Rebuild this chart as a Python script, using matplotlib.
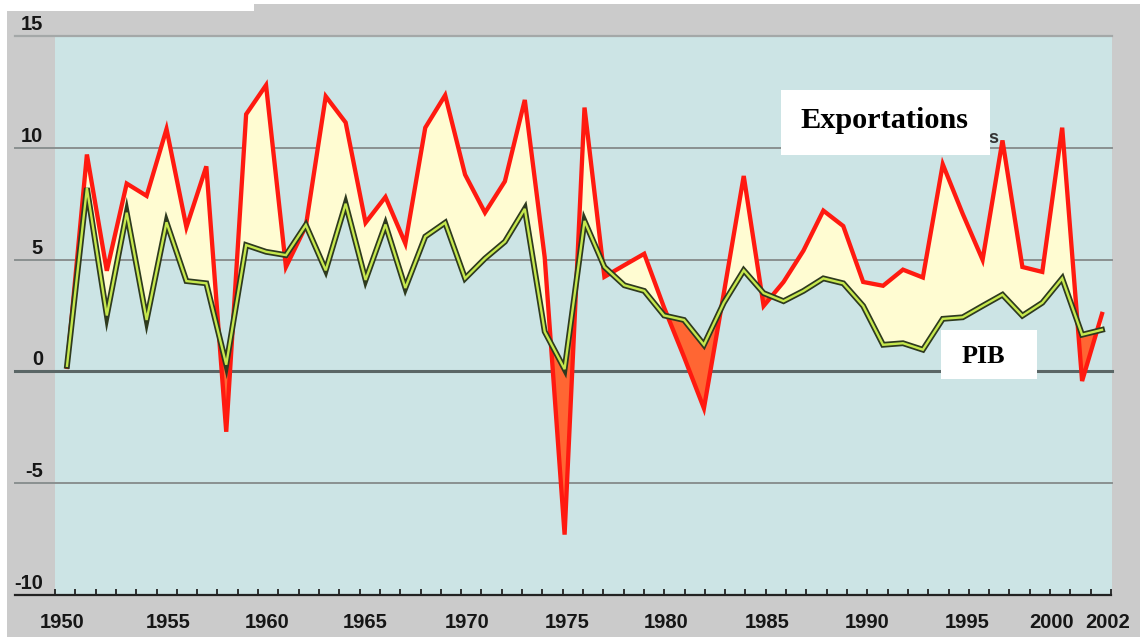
import numpy as np
import matplotlib
matplotlib.use("Agg")
import matplotlib.pyplot as plt
from matplotlib.patches import Rectangle

# ---------------- data ----------------
years = list(range(1950, 2003))
exportations = [0.2, 9.7, 4.5, 8.4, 7.85, 10.84, 6.45, 9.17, -2.7, 11.5,
                12.8, 4.67, 6.5, 12.3, 11.13, 6.65, 7.8, 5.72, 10.9, 12.35,
                8.8, 7.1, 8.5, 12.14, 5.1, -7.3, 11.8, 4.23, 4.75, 5.26,
                2.85, 0.65, -1.65, 3.5, 8.74, 2.93, 4.0, 5.4, 7.19, 6.5,
                4.0, 3.83, 4.55, 4.2, 9.26, 7.05, 4.99, 10.33, 4.67, 4.45,
                10.9, -0.43, 2.57]
pib = [0.25, 8.2, 2.5, 7.1, 2.3, 6.67, 4.04, 3.94, 0.3, 5.65,
       5.35, 5.2, 6.55, 4.52, 7.5, 4.09, 6.57, 3.73, 6.03, 6.65,
       4.16, 5.05, 5.8, 7.27, 1.78, 0.1, 6.73, 4.67, 3.85, 3.6,
       2.5, 2.3, 1.19, 3.07, 4.52, 3.5, 3.14, 3.6, 4.16, 3.94,
       2.93, 1.19, 1.26, 0.97, 2.35, 2.42, 2.93, 3.43, 2.49, 3.07,
       4.16, 1.64, 1.86]
year_labels = ["1950", "1955", "1960", "1965", "1970", "1975", "1980",
               "1985", "1990", "1995", "2000", "2002"]
y_ticks = [15, 10, 5, 0, -5, -10]
y_tick_labels = ["15", "10", "5", "0", "-5", "-10"]

# ---------------- geometry / style ----------------
W, H, DPI = 1140, 639, 100
ax_l, ax_r, ax_t, ax_b = 55, 1112, 36, 595
x_first_px, x_last_px = 67, 1102
px_per_year = (x_last_px - x_first_px) / (years[-1] - years[0])
xlim = (years[0] - (x_first_px - ax_l) / px_per_year,
        years[-1] + (ax_r - x_last_px) / px_per_year)

def px_to_year(px):
    return years[0] + (px - x_first_px) / px_per_year

label_px = [62, 168, 267, 365, 467, 567, 666, 767, 867, 967, 1052, 1108]

GRAY = "#cbcbcb"
TEAL = "#cce4e5"
LIGHT = "#fffcd2"
ORANGE = "#ff6633"
RED = "#ff1a10"
TXT = "#161616"

fig = plt.figure(figsize=(W / DPI, H / DPI), dpi=DPI, facecolor="white")

def fx(px):
    return px / W

def fy(py):
    return 1 - py / H

# gray panel and white strip (behind the axes)
fig.patches.append(Rectangle((fx(7), fy(637)), fx(1140 - 7), (637 - 4) / H,
                             transform=fig.transFigure, facecolor=GRAY,
                             edgecolor="none", zorder=-2))
fig.patches.append(Rectangle((0, fy(11)), fx(254), 11 / H,
                             transform=fig.transFigure, facecolor="white",
                             edgecolor="none", zorder=-1))

ax = fig.add_axes([fx(ax_l), fy(ax_b), fx(ax_r - ax_l), (ax_b - ax_t) / H])
ax.set_zorder(1)
ax.set_facecolor(TEAL)
ax.set_xlim(*xlim)
ax.set_ylim(-10, 15)
for s in ["top", "right", "left", "bottom"]:
    ax.spines[s].set_visible(False)

# grid lines extending into the left margin
ext = (15 - ax_l) / (ax_r - ax_l)
ytr = ax.get_yaxis_transform()
ax.plot([ext, 1], [15, 15], transform=ytr,
        color="#a4a8a8", lw=1.6, clip_on=False, zorder=1)
for v in [10, 5, -5]:
    ax.plot([ext, 1], [v, v], transform=ytr,
            color="#8a9090", lw=1.4, clip_on=False, zorder=1)
ax.plot([ext, 1], [0, 0], transform=ytr,
        color="#5a6666", lw=2.2, clip_on=False, zorder=1)
ax.plot([ext, (1111 - ax_l) / (ax_r - ax_l)], [-10, -10], transform=ytr,
        color="#222222", lw=1.6, clip_on=False, zorder=6)

ex = np.array(exportations)
pb = np.array(pib)
yr = np.array(years)
ax.fill_between(yr, ex, pb, where=ex >= pb, interpolate=True,
                facecolor=LIGHT, edgecolor="none", zorder=2)
ax.fill_between(yr, ex, pb, where=ex < pb, interpolate=True,
                facecolor=ORANGE, edgecolor="none", zorder=2)
ax.plot(yr, ex, color=RED, lw=3.1, solid_joinstyle="miter", zorder=3)
ax.plot(yr, pb, color="#2e3a1e", lw=4.2, solid_joinstyle="miter", zorder=4)
ax.plot(yr, pb, color="#c6e84e", lw=1.7, solid_joinstyle="miter", zorder=5)

# x ticks: 53 small marks, labels separately placed
tick_px = np.linspace(ax_l, 1111, 53)
ax.set_xticks([px_to_year(p) for p in tick_px], minor=True)
ax.set_xticks([px_to_year(p) for p in label_px])
ax.set_xticklabels(year_labels)
ax.tick_params(axis="x", which="minor", direction="in", length=4.5,
               width=1.3, color="#222222", bottom=True, top=False)
ax.tick_params(axis="x", which="major", length=0, pad=13,
               labelsize=14.5, labelcolor=TXT)
for lab in ax.get_xticklabels():
    lab.set_fontfamily("Liberation Sans")
    lab.set_fontweight("bold")
ax.set_yticks([])

# y labels above-left of grid lines
for v, t in zip(y_ticks, y_tick_labels):
    ypx_from_bottom = (H - ax_b) + (v - (-10)) / 25 * (ax_b - ax_t)
    fig.text(fx(43), (ypx_from_bottom + 2) / H, t, ha="right", va="bottom",
             fontsize=14.5, family="Liberation Sans", fontweight="bold",
             color=TXT)

# remnant character and label boxes
fig.text(fx(988), fy(147), "s", fontsize=13, family="Liberation Sans",
         fontweight="bold", color="#333333", ha="left", va="bottom", zorder=7)
fig.patches.append(Rectangle((fx(781), fy(155)), fx(990 - 781), (155 - 90) / H,
                             transform=fig.transFigure, facecolor="white",
                             edgecolor="none", zorder=8))
fig.text(fx(884), fy(121), "Exportations", fontsize=21.8, fontweight="bold",
         family="Liberation Serif", ha="center", va="center", zorder=9)
fig.patches.append(Rectangle((fx(941), fy(379)), fx(1037 - 941), (379 - 330) / H,
                             transform=fig.transFigure, facecolor="white",
                             edgecolor="none", zorder=8))
fig.text(fx(983), fy(356), "PIB", fontsize=18.8, fontweight="bold",
         family="Liberation Serif", ha="center", va="center", zorder=9)

fig.savefig("out.png", dpi=DPI, facecolor=fig.get_facecolor())
